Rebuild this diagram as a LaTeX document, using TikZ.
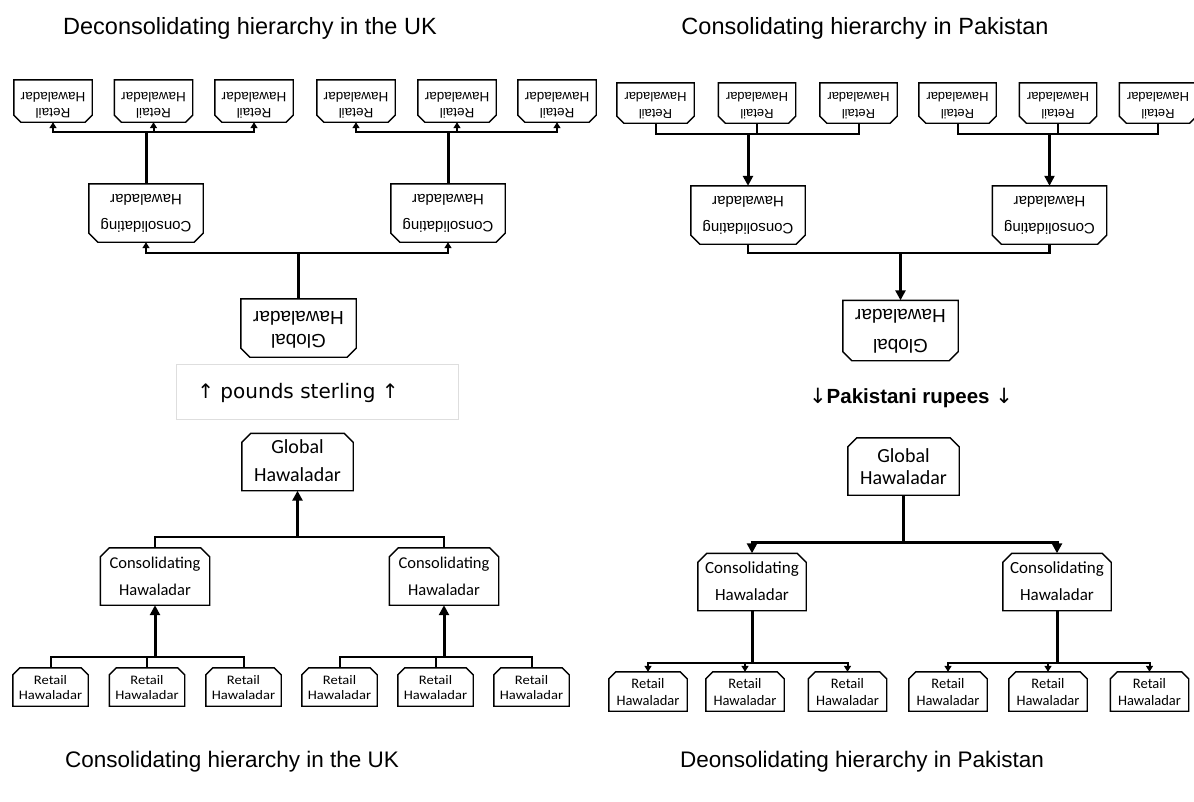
\documentclass[tikz,border=0pt]{standalone}
\usepackage{graphicx}
\usepackage{fontspec}
\setmainfont{Liberation Sans}
\newfontfamily\calib{Carlito}
\newfontfamily\calibw[FakeStretch=1.12]{Carlito}
\newfontfamily\dejavu{DejaVu Sans}
\usetikzlibrary{arrows.meta}
\newcommand\chtop[2]{\draw[boxline] (#1.south west) -- ([yshift=-#2]#1.north west) -- ([xshift=#2]#1.north west) -- ([xshift=-#2]#1.north east) -- ([yshift=-#2]#1.north east) -- (#1.south east) -- cycle;}
\newcommand\chbot[2]{\draw[boxline] (#1.north west) -- ([yshift=#2]#1.south west) -- ([xshift=#2]#1.south west) -- ([xshift=-#2]#1.south east) -- ([yshift=#2]#1.south east) -- (#1.north east) -- cycle;}
\newcommand\udtext[1]{\rotatebox[origin=c]{180}{\begin{tabular}{@{}c@{}}#1\end{tabular}}}
\newcommand\uptext[1]{\begin{tabular}{@{}c@{}}#1\end{tabular}}
\newcommand\lowerby[2]{\raisebox{-#1}[\height][\depth]{#2}}
\tikzset{
  boxline/.style={draw=black, line width=1.4pt, line join=miter},
  trunk/.style={draw=black, line width=3pt},
  branch/.style={draw=black, line width=2pt},
  sarr/.style={-{Triangle[length=6pt,width=7pt]}},
  barr/.style={-{Triangle[length=10pt,width=10pt]}},
  title/.style={font=\fontsize{23.5}{27}\selectfont},
  btitle/.style={font=\fontsize{22.5}{27}\selectfont},
  tlret/.style={inner sep=0pt, minimum width=78pt, minimum height=42pt, font=\fontsize{13.5}{16}\selectfont},
  trret/.style={inner sep=0pt, minimum width=77pt, minimum height=40pt, font=\fontsize{13}{17}\selectfont},
  tcon/.style={inner sep=0pt, minimum width=114pt, minimum height=58pt, font=\fontsize{15}{27}\selectfont},
  tglob/.style={inner sep=0pt, minimum width=115pt, minimum height=58pt, font=\fontsize{19}{#1}\selectfont},
  bglob/.style={inner sep=0pt, minimum width=111pt, minimum height=57pt, font=\calib\fontsize{20}{#1}\selectfont},
  bcon/.style={inner sep=0pt, minimum width=109pt, minimum height=57pt, font=\calib\fontsize{16.5}{27}\selectfont},
  blret/.style={inner sep=0pt, minimum width=75pt, minimum height=38pt, font=\calibw\fontsize{13}{15}\selectfont},
  brret/.style={inner sep=0pt, minimum width=78pt, minimum height=39pt, font=\calib\fontsize{14.5}{17}\selectfont},
}
\begin{document}
\begin{tikzpicture}[x=1pt,y=-1pt]
\useasboundingbox[fill=white] (0,0) rectangle (1194,801);

% titles
\node[title] (t1) at (250,28) {Deconsolidating hierarchy in the UK};
\node[title] (t2) at (865,28) {Consolidating hierarchy in Pakistan};
\node[btitle] (t3) at (232,762) {Consolidating hierarchy in the UK};
\node[btitle] (t4) at (862,762) {Deonsolidating hierarchy in Pakistan};

% ---------- top left: deconsolidating UK (upside down) ----------
\foreach \n/\x in {1/53,2/153.5,3/254,4/356,5/457,6/557}{
  \node[tlret] (tlr\n) at (\x,101) {\lowerby{3pt}{\udtext{Retail\\Hawaladar}}};
  \chbot{tlr\n}{7pt}
}
\node[tcon] (tlc1) at (146,213) {\udtext{Consolidating\\Hawaladar}};
\node[tcon] (tlc2) at (448,213) {\udtext{Consolidating\\Hawaladar}};
\chbot{tlc1}{9pt}
\chbot{tlc2}{9pt}
\node[tglob=23] (tlg) at (298.5,328) {\udtext{Global\\Hawaladar}};
\chbot{tlg}{9pt}

\coordinate (tlj1) at (tlc1.north |- 0,132);
\coordinate (tlj2) at (tlc2.north |- 0,132);
\draw[trunk] (tlc1.north) -- (tlj1);
\draw[trunk] (tlc2.north) -- (tlj2);
\foreach \n in {1,2,3}{\draw[branch,sarr] (tlj1) -| (tlr\n.south);}
\foreach \n in {4,5,6}{\draw[branch,sarr] (tlj2) -| (tlr\n.south);}
\coordinate (tlj0) at (tlg.north |- 0,253);
\draw[trunk] (tlg.north) -- (tlj0);
\draw[branch,sarr,line width=2.5pt] (tlj0) -| (tlc1.south);
\draw[branch,sarr,line width=2.5pt] (tlj0) -| (tlc2.south);

% pounds sterling
\node[draw=black!13, line width=0.8pt, inner sep=0pt, minimum width=282pt, minimum height=55pt] (gbpbox) at (317,391.5) {};
\node[font=\dejavu\fontsize{20}{22}\selectfont, inner sep=0pt] (gbp) at (298,393) {↑ pounds sterling ↑};

% ---------- bottom left: consolidating UK ----------
\node[bglob=28] (blg) at (297.5,462) {\uptext{Global\\Hawaladar}};
\chtop{blg}{9pt}
\node[bcon] (blc1) at (155,576.5) {\uptext{Consolidating\\Hawaladar}};
\node[bcon] (blc2) at (444,576.5) {\uptext{Consolidating\\Hawaladar}};
\chtop{blc1}{9pt}
\chtop{blc2}{9pt}
\foreach \n/\x in {1/50.5,2/147,3/243.5,4/339.5,5/435.5,6/531.5}{
  \node[blret] (blr\n) at (\x,687) {\lowerby{2pt}{\uptext{Retail\\Hawaladar}}};
  \chtop{blr\n}{7pt}
}
\coordinate (blj0) at (blg.south |- 0,537);
\draw[branch,line width=2.5pt] (blc1.north) |- (blj0);
\draw[branch,line width=2.5pt] (blc2.north) |- (blj0);
\draw[trunk,barr] (blj0) -- (blg.south);
\coordinate (blj1) at (blc1.south |- 0,657);
\coordinate (blj2) at (blc2.south |- 0,657);
\foreach \n in {1,2,3}{\draw[branch] (blr\n.north) |- (blj1);}
\foreach \n in {4,5,6}{\draw[branch] (blr\n.north) |- (blj2);}
\draw[trunk,barr] (blj1) -- (blc1.south);
\draw[trunk,barr] (blj2) -- (blc2.south);

% ---------- top right: consolidating Pakistan (upside down) ----------
\foreach \n/\x in {1/655.5,2/757,3/858.5,4/957.5,5/1058,6/1158}{
  \node[trret] (trr\n) at (\x,103) {\lowerby{1.5pt}{\udtext{Retail\\Hawaladar}}};
  \chbot{trr\n}{7pt}
}
\node[tcon] (trc1) at (748,215) {\udtext{Consolidating\\Hawaladar}};
\node[tcon] (trc2) at (1049.5,215) {\udtext{Consolidating\\Hawaladar}};
\chbot{trc1}{9pt}
\chbot{trc2}{9pt}
\node[tglob=30] (trg) at (900.5,330.5) {\udtext{Global\\Hawaladar}};
\chbot{trg}{9pt}

\coordinate (trj1) at (trc1.north |- 0,134);
\coordinate (trj2) at (trc2.north |- 0,134);
\foreach \n in {1,2,3}{\draw[branch] (trr\n.south) |- (trj1);}
\foreach \n in {4,5,6}{\draw[branch] (trr\n.south) |- (trj2);}
\draw[trunk,barr] (trj1) -- (trc1.north);
\draw[trunk,barr,line width=2.2pt] (trj2) -- (trc2.north);
\coordinate (trj0) at (trg.north |- 0,253);
\draw[branch,line width=2.5pt] (trc1.south) |- (trj0);
\draw[branch,line width=2.5pt] (trc2.south) |- (trj0);
\draw[trunk,barr] (trj0) -- (trg.north);

% rupees
\node[font=\bfseries\fontsize{20.5}{24}\selectfont, inner sep=0pt] (pkr) at (911,398) {{\mdseries\dejavu\fontsize{21}{24}\selectfont ↓}Pakistani rupees {\mdseries\dejavu\fontsize{21}{24}\selectfont ↓}};

% ---------- bottom right: deconsolidating Pakistan ----------
\node[bglob=22] (brg) at (903.5,466.5) {\lowerby{3pt}{\uptext{Global\\Hawaladar}}};
\chtop{brg}{9pt}
\node[bcon,minimum width=108pt,font=\calib\fontsize{17}{27}\selectfont] (brc1) at (752,582) {\uptext{Consolidating\\Hawaladar}};
\node[bcon,minimum width=108pt,font=\calib\fontsize{17}{27}\selectfont] (brc2) at (1057,582) {\uptext{Consolidating\\Hawaladar}};
\chtop{brc1}{9pt}
\chtop{brc2}{9pt}
\foreach \n/\x in {1/648,2/745,3/847.5,4/948,5/1048,6/1149.5}{
  \node[brret] (brr\n) at (\x,691.5) {\lowerby{2pt}{\uptext{Retail\\Hawaladar}}};
  \chtop{brr\n}{7pt}
}
\coordinate (brj0) at (brg.south |- 0,542);
\draw[trunk] (brg.south) -- (brj0);
\draw[trunk,barr] (brj0) -| (brc1.north);
\draw[trunk,barr] (brj0) -| (brc2.north);
\coordinate (brj1) at (brc1.south |- 0,663);
\coordinate (brj2) at (brc2.south |- 0,663);
\draw[trunk] (brc1.south) -- (brj1);
\draw[trunk] (brc2.south) -- (brj2);
\foreach \n in {1,2,3}{\draw[branch,sarr] (brj1) -| (brr\n.north);}
\foreach \n in {4,5,6}{\draw[branch,sarr] (brj2) -| (brr\n.north);}
\end{tikzpicture}
\end{document}
